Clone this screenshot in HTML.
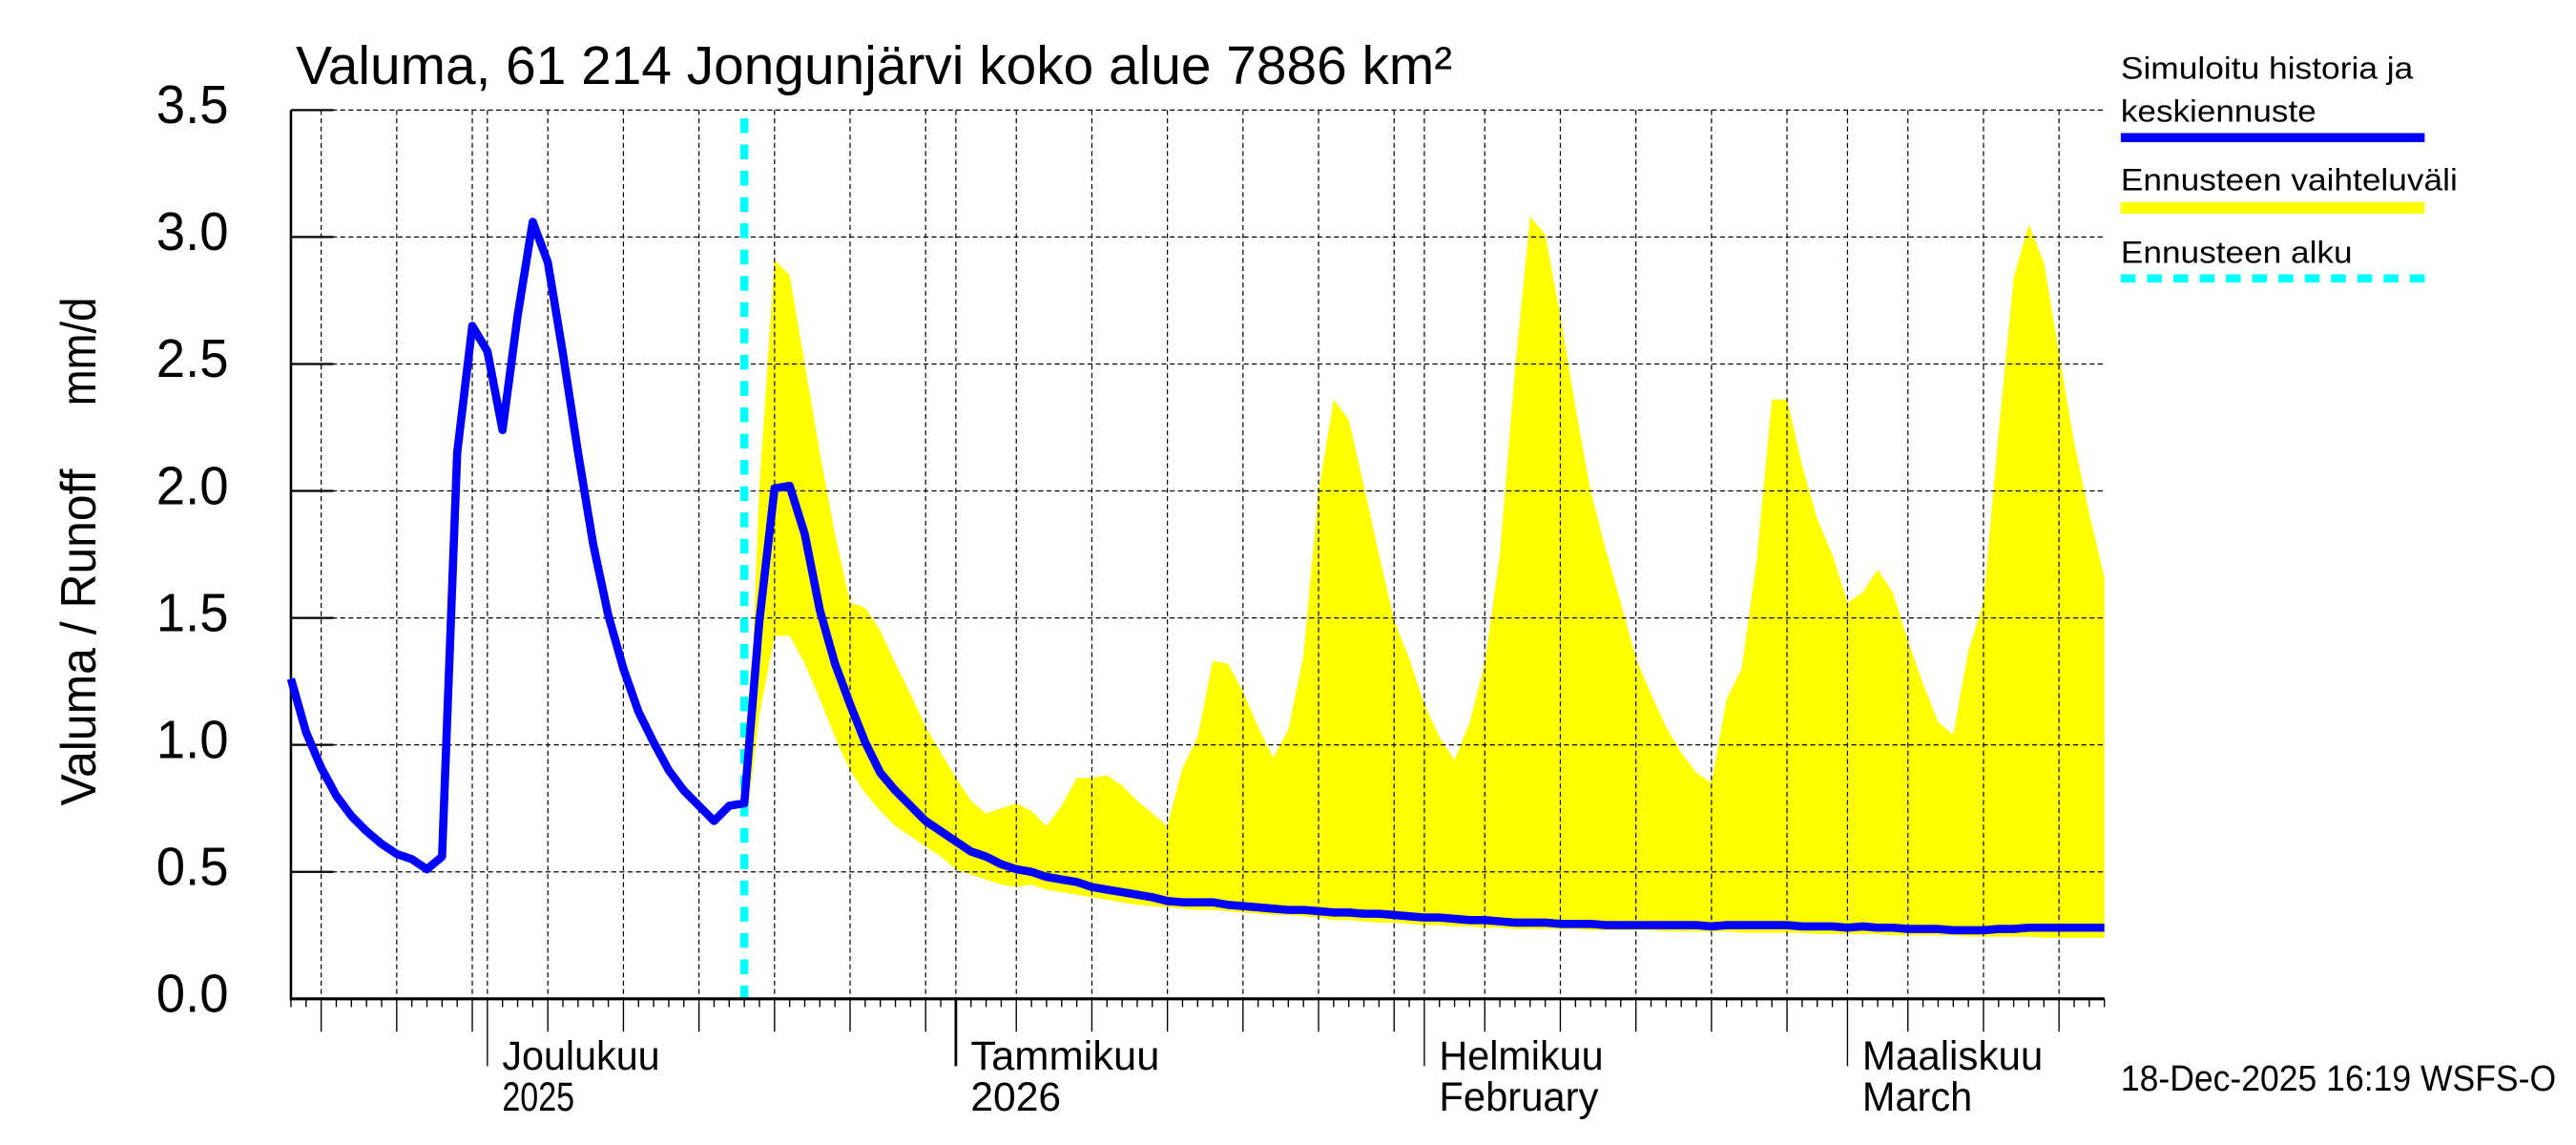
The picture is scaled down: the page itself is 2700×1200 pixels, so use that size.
<!DOCTYPE html>
<html><head><meta charset="utf-8"><style>
html,body{margin:0;padding:0;background:#fff;}
svg{display:block;font-family:"Liberation Sans",sans-serif;}
</style></head><body>
<svg id="chart" width="2700" height="1200" viewBox="0 0 1568 697" xmlns="http://www.w3.org/2000/svg">
<rect x="0" y="0" width="1568" height="697" fill="#fff"/>
<text x="180" y="51" font-size="33" textLength="704" lengthAdjust="spacingAndGlyphs">Valuma, 61 214 Jongunjärvi koko alue 7886 km²</text>
<g id="plot"></g>
<text transform="translate(58,388) rotate(-90)" font-size="30" text-anchor="middle" textLength="205" lengthAdjust="spacingAndGlyphs">Valuma / Runoff</text>
<text transform="translate(58,214) rotate(-90)" font-size="30" text-anchor="middle" textLength="66" lengthAdjust="spacingAndGlyphs">mm/d</text>
<g>
<text x="1291" y="48" font-size="19" textLength="178" lengthAdjust="spacingAndGlyphs">Simuloitu historia ja</text>
<text x="1291" y="74" font-size="19" textLength="119" lengthAdjust="spacingAndGlyphs">keskiennuste</text>
<rect x="1291" y="81" width="185" height="5.5" fill="#0000ff"/>
<text x="1291" y="116" font-size="19" textLength="205" lengthAdjust="spacingAndGlyphs">Ennusteen vaihteluväli</text>
<rect x="1291" y="123" width="185" height="7" fill="#ffff00"/>
<text x="1291" y="160" font-size="19" textLength="141" lengthAdjust="spacingAndGlyphs">Ennusteen alku</text>
<line x1="1291" y1="169.5" x2="1476" y2="169.5" stroke="#00ffff" stroke-width="5" stroke-dasharray="9,7"/>
</g>
<text x="1291" y="664" font-size="22" textLength="265" lengthAdjust="spacingAndGlyphs">18-Dec-2025 16:19 WSFS-O</text>
</svg>
<script>
// Day 0 = 18 Nov 2025; one value per day
const histValues = [1.26,1.05,0.91,0.80,0.72,0.66,0.61,0.57,0.55,0.51,0.56,2.15,2.65,2.55,2.24,2.69,3.06,2.90,2.54,2.15,1.79,1.51,1.30,1.13,1.01,0.90,0.82,0.76,0.70,0.76,0.77];
const forecastStartDay = 30;
const fcMean = [0.77,1.49,2.01,2.02,1.83,1.53,1.32,1.16,1.01,0.89,0.82,0.76,0.70,0.66,0.62,0.58,0.56,0.53,0.51,0.50,0.48,0.47,0.46,0.44,0.43,0.42,0.41,0.40,0.385,0.38,0.38,0.38,0.37,0.365,0.36,0.355,0.35,0.35,0.345,0.34,0.34,0.335,0.335,0.33,0.325,0.32,0.32,0.315,0.31,0.31,0.305,0.30,0.30,0.30,0.295,0.295,0.295,0.29,0.29,0.29,0.29,0.29,0.29,0.29,0.285,0.29,0.29,0.29,0.29,0.29,0.285,0.285,0.285,0.28,0.285,0.28,0.28,0.275,0.275,0.275,0.27,0.27,0.27,0.275,0.275,0.28,0.28,0.28,0.28,0.28,0.28];
const fcUpper = [1.13,2.02,2.91,2.85,2.50,2.15,1.83,1.56,1.54,1.45,1.32,1.20,1.07,0.97,0.87,0.78,0.73,0.75,0.77,0.74,0.68,0.76,0.87,0.87,0.88,0.84,0.78,0.73,0.68,0.91,1.03,1.33,1.32,1.21,1.07,0.95,1.06,1.35,2.00,2.36,2.28,2.02,1.75,1.49,1.34,1.16,1.03,0.94,1.09,1.32,1.75,2.48,3.08,3.01,2.69,2.33,2.00,1.77,1.56,1.34,1.20,1.07,0.97,0.89,0.85,1.18,1.30,1.73,2.36,2.36,2.10,1.89,1.75,1.56,1.60,1.69,1.60,1.41,1.24,1.09,1.04,1.37,1.56,2.23,2.84,3.05,2.90,2.54,2.19,1.91,1.66];
const fcLower = [0.82,1.12,1.43,1.43,1.32,1.18,1.03,0.90,0.81,0.74,0.68,0.64,0.60,0.56,0.51,0.49,0.47,0.45,0.44,0.45,0.43,0.42,0.41,0.40,0.39,0.38,0.37,0.365,0.36,0.355,0.35,0.35,0.345,0.34,0.335,0.33,0.33,0.325,0.32,0.31,0.31,0.305,0.30,0.30,0.295,0.29,0.29,0.285,0.285,0.28,0.28,0.275,0.275,0.275,0.275,0.275,0.27,0.27,0.27,0.27,0.27,0.265,0.265,0.265,0.265,0.265,0.26,0.26,0.26,0.26,0.26,0.255,0.255,0.255,0.255,0.255,0.25,0.25,0.25,0.25,0.25,0.245,0.245,0.245,0.245,0.245,0.24,0.24,0.24,0.24,0.24];
const yTicks = [0,0.5,1.0,1.5,2.0,2.5,3.0,3.5];
const yTickLabels = ["0.0","0.5","1.0","1.5","2.0","2.5","3.0","3.5"];
const monthStartDays = [13,44,75,103];
const monthLine1 = ["Joulukuu","Tammikuu","Helmikuu","Maaliskuu"];
const monthLine2 = ["2025","2026","February","March"];
const monthLine1Len = [96,115,100,110];
const monthLine2Len = [44,55,97,67];
const gridDays = [2,7,12,13,17,22,27,32,37,42,44,48,53,58,63,68,73,75,79,84,89,94,99,103,107,112,117];
const totalDays = 120;

const X0 = 177, X1 = 1281, Y0 = 608, Y1 = 67, YMAX = 3.5;
const xs = d => X0 + d * (X1 - X0) / totalDays;
const ys = v => Y0 - v * (Y0 - Y1) / YMAX;
const NS = "http://www.w3.org/2000/svg";
const plot = document.getElementById("plot");
function mk(tag, attrs){ const e = document.createElementNS(NS, tag); for (const k in attrs) e.setAttribute(k, attrs[k]); plot.appendChild(e); return e; }

let pts = [];
for (let i = 0; i < fcUpper.length; i++) pts.push(xs(forecastStartDay + i + (i===0?0.4:0)) + "," + ys(fcUpper[i]));
for (let i = fcLower.length - 1; i >= 0; i--) pts.push(xs(forecastStartDay + i + (i===0?0.4:0)) + "," + ys(fcLower[i]));
const band = mk("polygon", {points: pts.join(" "), fill: "#ffff00"});



yTicks.forEach((v, i) => {
  if (v > 0) {
    const g = mk("line", {x1: X0, x2: X1, y1: ys(v), y2: ys(v), stroke: "#000", "stroke-width": 0.7, "stroke-dasharray": "3,2"});
    
    
  }
  const t = mk("line", {x1: X0, x2: X0 + 26, y1: ys(v), y2: ys(v), stroke: "#000", "stroke-width": 1.3});
  
  
  const lb = mk("text", {x: 139, y: ys(v) + 8, "font-size": 33, "text-anchor": "end", textLength: 44, lengthAdjust: "spacingAndGlyphs"});
  lb.textContent = yTickLabels[i];
  
  
});

gridDays.forEach(d => {
  const g = mk("line", {x1: xs(d), x2: xs(d), y1: Y1, y2: Y0, stroke: "#000", "stroke-width": 0.7, "stroke-dasharray": "3,2"});
  
  
});

for (let d = 0; d <= totalDays; d++) {
  let len = 5, w = 0.8;
  if (gridDays.includes(d)) len = 20;
  if (monthStartDays.includes(d)) len = 41;
  if (d === 44) w = 1.6;
  const t = mk("line", {x1: xs(d), x2: xs(d), y1: Y0, y2: Y0 + len, stroke: "#000", "stroke-width": w});
  
  
}
monthStartDays.forEach((d, i) => {
  const a = mk("text", {x: xs(d) + 9, y: 651, "font-size": 25, textLength: monthLine1Len[i], lengthAdjust: "spacingAndGlyphs"});
  a.textContent = monthLine1[i];
  
  
  const b = mk("text", {x: xs(d) + 9, y: 676, "font-size": 25, textLength: monthLine2Len[i], lengthAdjust: "spacingAndGlyphs"});
  b.textContent = monthLine2[i];
  
  
});

const fs = mk("line", {x1: xs(forecastStartDay), x2: xs(forecastStartDay), y1: Y1 + 5, y2: Y0, stroke: "#00ffff", "stroke-width": 5, "stroke-dasharray": "9,7"});



const ax = mk("line", {x1: X0, x2: X0, y1: Y1, y2: Y0 + 1, stroke: "#000", "stroke-width": 1.5});


const bx = mk("line", {x1: X0, x2: X1, y1: Y0, y2: Y0, stroke: "#000", "stroke-width": 1.8});



let lp = [];
histValues.forEach((v, d) => lp.push(xs(d) + "," + ys(v)));
fcMean.forEach((v, i) => { if (i > 0) lp.push(xs(forecastStartDay + i) + "," + ys(v)); });
const sim = mk("polyline", {points: lp.join(" "), fill: "none", stroke: "#0000ff", "stroke-width": 5, "stroke-linejoin": "round"});


</script>
</body></html>
